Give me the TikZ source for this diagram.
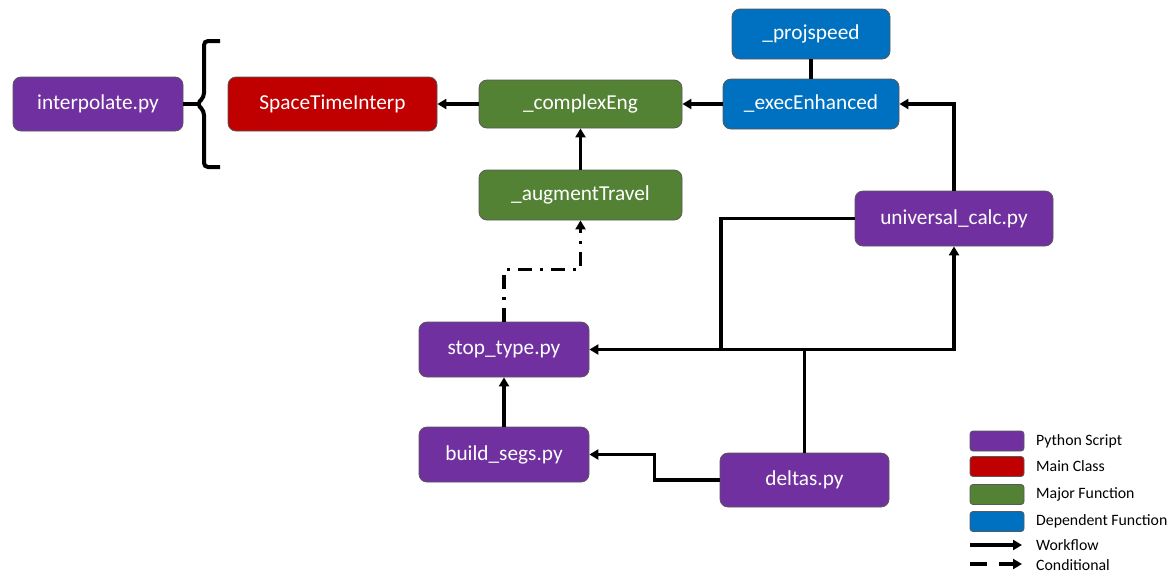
\documentclass[tikz,border=0pt]{standalone}
\usepackage{fontspec}
\setmainfont{Carlito}
\usetikzlibrary{arrows.meta}
\definecolor{cpurple}{HTML}{7030A0}
\definecolor{cred}{HTML}{C00000}
\definecolor{cgreen}{HTML}{548235}
\definecolor{cblue}{HTML}{0070C0}
\begin{document}
\begin{tikzpicture}[x=1pt,y=-1pt,
  box/.style={draw=black!65, line width=0.8pt, rounded corners=8pt, text=white,
    font=\fontsize{21.3}{25}\selectfont, inner sep=0pt, minimum height=54pt},
  legbox/.style={draw=black!65, line width=0.8pt, rounded corners=3pt,
    minimum width=54pt, minimum height=20pt, inner sep=0pt},
  legtext/.style={anchor=west, font=\fontsize{15.8}{18}\selectfont, inner sep=0pt},
  conn/.style={line width=3.5pt},
  flow/.style={conn, -{Triangle[length=9pt,width=10pt]}},
  cond/.style={flow, dash pattern=on 14pt off 8pt on 3pt off 8pt},
]
\useasboundingbox (0,0) rectangle (1172,582);
\fill[white] (0,0) rectangle (1172,582);

% nodes
\node[box, fill=cpurple, minimum width=170pt] (interp) at (98,104) {interpolate.py};
\node[box, fill=cred, minimum width=209pt] (sti) at (332.5,104) {SpaceTimeInterp};
\node[box, fill=cgreen, minimum width=203pt, minimum height=48pt] (complex) at (580.5,104) {\_complexEng};
\node[box, fill=cblue, minimum width=158pt, minimum height=50pt] (proj) at (811,34) {\_projspeed};
\node[box, fill=cblue, minimum width=176pt, minimum height=50pt] (exec) at (811,104) {\_execEnhanced};
\node[box, fill=cgreen, minimum width=203pt, minimum height=50pt] (aug) at (580.5,195) {\_augmentTravel};
\node[box, fill=cpurple, minimum width=198pt, minimum height=55pt] (univ) at (954,218.5) {universal\_calc.py};
\node[box, fill=cpurple, minimum width=170pt, minimum height=55pt] (stop) at (504,349.5) {stop\_type.py};
\node[box, fill=cpurple, minimum width=170pt, minimum height=55pt] (build) at (504,454.5) {build\_segs.py};
\node[box, fill=cpurple, minimum width=169pt] (deltas) at (804.5,480) {deltas.py};

% brace
\coordinate (btip) at (197,104);
\draw[line width=4pt, rounded corners=4pt] (220,41) -- (204,41) -- (204,97) -- (btip) -- (204,111) -- (204,167) -- (220,167);
\draw[conn] (interp.east) -- (btip);

% connectors
\draw[flow] (complex.west) -- (sti.east);
\draw[flow] (exec.west) -- (complex.east);
\draw[conn] (proj.south) -- (exec.north);
\draw[flow] (aug.north) -- (complex.south);
\draw[flow] (univ.north) |- (exec.east);
\coordinate (j1) at (721,349.5);
\draw[conn] (univ.west) -| (j1);
\draw[flow] (deltas.north) |- (stop.east);
\draw[flow] (deltas.north) |- (univ.south |- stop.east) -- (univ.south);
\draw[flow] (deltas.west) -- ++(-65,0) |- (build.east);
\draw[flow] (build.north) -- (stop.south);
\draw[cond] (stop.north) -- ++(0,-52) -| (aug.south);

% legend
\node[legbox, fill=cpurple] (l1) at (997,441) {};
\node[legbox, fill=cred] (l2) at (997,466.5) {};
\node[legbox, fill=cgreen] (l3) at (997,494.5) {};
\node[legbox, fill=cblue] (l4) at (997,521.5) {};
\node[legtext] (t1) at (1036,441) {Python Script};
\node[legtext] (t2) at (1036,466.5) {Main Class};
\node[legtext] (t3) at (1036,494.5) {Major Function};
\node[legtext] (t4) at (1036,521.5) {Dependent Function};
\coordinate (w1) at (970,545);
\coordinate (w2) at (1022,545);
\draw[flow] (w1) -- (w2);
\node[legtext] (t5) at (1036,545) {Workflow};
\coordinate (c1) at (970,564);
\coordinate (c2) at (1022,564);
\draw[flow, dash pattern=on 17pt off 12pt] (c1) -- (c2);
\node[legtext] (t6) at (1036,565) {Conditional};
\end{tikzpicture}
\end{document}
